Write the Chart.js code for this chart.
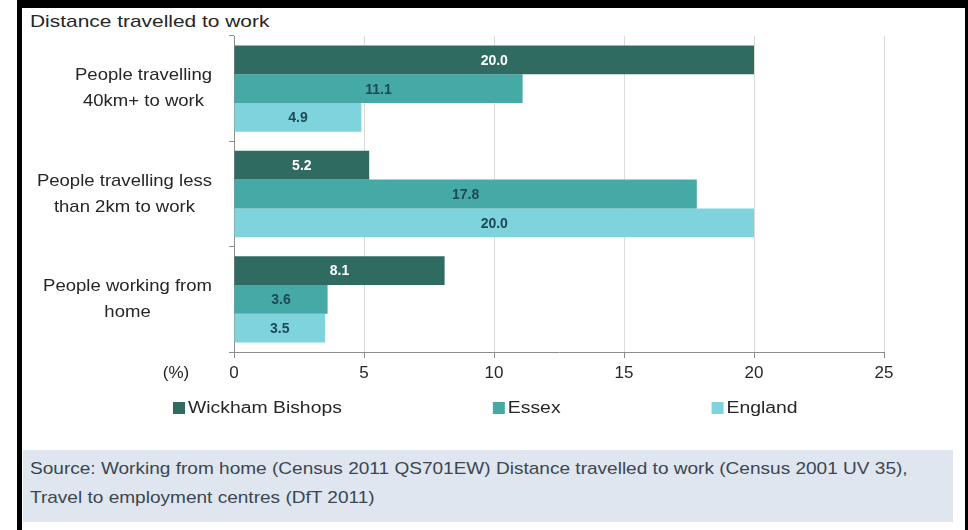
<!DOCTYPE html>
<html>
<head>
<meta charset="utf-8">
<script src="https://cdn.jsdelivr.net/npm/chart.js@4"></script>
<style>
  html, body { margin: 0; padding: 0; background: #fff; }
  body { width: 968px; height: 530px; position: relative; overflow: hidden; font-family: "Liberation Sans", Arial, sans-serif; }
  #frame { position: absolute; left: 17px; top: 0; width: 951px; height: 530px; border-top: 8px solid #000; border-left: 5px solid #000; border-right: 3px solid #000; box-sizing: border-box; }
  #title { position: absolute; left: 30px; top: 12px; font-size: 17px; color: #262626; transform: scaleX(1.23); transform-origin: left top; white-space: nowrap; }
  #source { position: absolute; left: 23px; top: 450px; width: 930px; height: 72px; background: #dfe6ef; }
  #source p { margin: 0; position: absolute; left: 7px; font-size: 17px; color: #3c4650; transform: scaleX(1.12); transform-origin: left top; white-space: nowrap; }
  canvas { position: absolute; left: 0; top: 0; }
</style>
</head>
<body>
<div id="frame"></div>
<div id="source">
  <p style="top:9px">Source: Working from home (Census 2011 QS701EW) Distance travelled to work (Census 2001 UV 35),</p>
  <p style="top:38px">Travel to employment centres (DfT 2011)</p>
</div>
<div id="title">Distance travelled to work</div>
<canvas id="myChart" width="968" height="530"></canvas>
<script>
// categories (each label split over two lines like the original)
var categories = [
  ['People travelling', '40km+ to work'],
  ['People travelling less', 'than 2km to work'],
  ['People working from', 'home']
];
var seriesNames = ['Wickham Bishops', 'Essex', 'England'];
var wickham = [20.0, 5.2, 8.1];
var essex = [11.1, 17.8, 3.6];
var england = [4.9, 20.0, 3.5];
var xTicks = [0, 5, 10, 15, 20, 25];

var barColors = ['#2f6b60', '#45a9a6', '#7fd3dc'];
var labelColors = ['#ffffff', '#1d4a55', '#1d4a55'];
var FONT = '"Liberation Sans", Arial, sans-serif';

// value labels in the middle of each bar
var barLabels = {
  id: 'barLabels',
  afterDatasetsDraw: function(chart) {
    var ctx = chart.ctx;
    ctx.save();
    ctx.font = 'bold 14px ' + FONT;
    ctx.textAlign = 'center';
    ctx.textBaseline = 'middle';
    chart.data.datasets.forEach(function(ds, i) {
      var meta = chart.getDatasetMeta(i);
      meta.data.forEach(function(bar, j) {
        ctx.fillStyle = labelColors[i];
        ctx.fillText(ds.data[j].toFixed(1), (bar.x + bar.base) / 2, bar.y + 1);
      });
    });
    ctx.restore();
  }
};

// category labels: each block right-aligned to the axis, lines centred in the block
var catLabels = {
  id: 'catLabels',
  afterDraw: function(chart) {
    var ctx = chart.ctx, yScale = chart.scales.y, sx = 1.09;
    ctx.save();
    ctx.font = '17px ' + FONT;
    ctx.fillStyle = '#262626';
    ctx.textAlign = 'center';
    ctx.textBaseline = 'middle';
    chart.data.labels.forEach(function(lines, i) {
      var w = Math.max.apply(null, lines.map(function(l) { return ctx.measureText(l).width; })) * sx;
      var cx = 212 - w / 2;
      var cy = yScale.getPixelForTick(i);
      lines.forEach(function(l, k) {
        ctx.save();
        ctx.translate(cx, cy + (k - (lines.length - 1) / 2) * 26);
        ctx.scale(sx, 1);
        ctx.fillText(l, 0, 0);
        ctx.restore();
      });
    });
    ctx.restore();
  }
};

// legend drawn under the axis, plus the "(%)" unit label
var extras = {
  id: 'extras',
  afterDraw: function(chart) {
    var ctx = chart.ctx, sx = 1.21;
    ctx.save();
    ctx.font = '17px ' + FONT;
    ctx.fillStyle = '#262626';
    ctx.textAlign = 'center';
    ctx.textBaseline = 'middle';
    ctx.fillText('(%)', 176, 373);

    ctx.font = '16px ' + FONT;
    ctx.textAlign = 'left';
    var x = 173, y = 408, gap = 151;
    chart.data.datasets.forEach(function(ds) {
      ctx.fillStyle = ds.backgroundColor;
      ctx.fillRect(x, y - 6, 12, 12);
      ctx.fillStyle = '#262626';
      ctx.save();
      ctx.translate(x + 15, y + 1);
      ctx.scale(sx, 1);
      ctx.fillText(ds.label, 0, 0);
      ctx.restore();
      x += 15 + ctx.measureText(ds.label).width * sx + gap;
    });
    ctx.restore();
  }
};

var ctx = document.getElementById('myChart').getContext('2d');
var myChart = new Chart(ctx, {
  type: 'bar',
  data: {
    labels: categories,
    datasets: [
      { label: seriesNames[0], data: wickham, backgroundColor: barColors[0] },
      { label: seriesNames[1], data: essex, backgroundColor: barColors[1] },
      { label: seriesNames[2], data: england, backgroundColor: barColors[2] }
    ]
  },
  options: {
    indexAxis: 'y',
    responsive: false,
    animation: false,
    layout: { padding: { top: 36, right: 84, left: 0, bottom: 0 } },
    datasets: { bar: { categoryPercentage: 0.82, barPercentage: 1.0 } },
    plugins: { legend: { display: false }, tooltip: { enabled: false } },
    scales: {
      x: {
        min: 0,
        max: 25,
        afterBuildTicks: function(scale) {
          scale.ticks = xTicks.map(function(v) { return { value: v }; });
        },
        afterFit: function(scale) { scale.height = 178; },
        grid: {
          color: function(c) { return c.tick && c.tick.value === 0 ? 'rgba(0,0,0,0)' : '#dcdcd6'; },
          tickColor: '#8c8c8c',
          tickLength: 6
        },
        border: { color: '#8c8c8c', width: 1 },
        ticks: {
          color: '#262626',
          padding: 5,
          font: { family: FONT, size: 17 }
        }
      },
      y: {
        afterFit: function(scale) { scale.width = 234; },
        grid: { drawOnChartArea: false, tickLength: 5, color: '#8c8c8c' },
        border: { color: '#8c8c8c', width: 1 },
        ticks: { display: false }
      }
    }
  },
  plugins: [barLabels, catLabels, extras]
});
</script>
</body>
</html>
